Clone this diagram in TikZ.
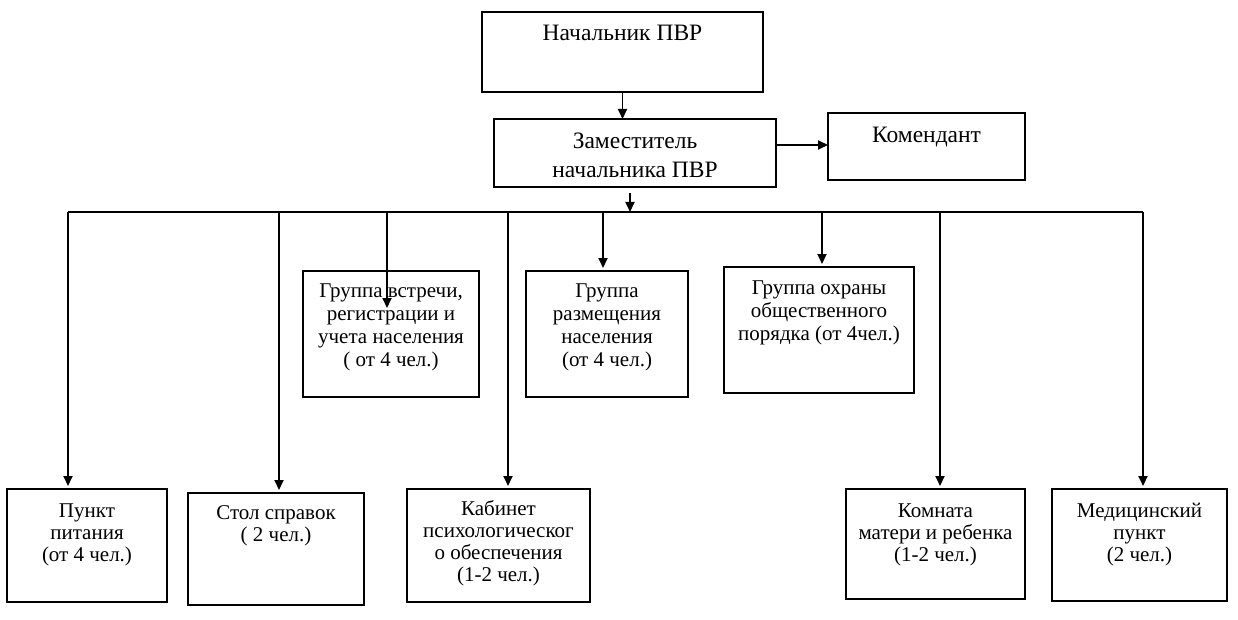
\documentclass[tikz,border=0pt]{standalone}
\usepackage{fontspec}
\setmainfont{Liberation Serif}
\usetikzlibrary{arrows.meta}
\tikzset{
  box/.style={draw, line width=1.9pt, inner sep=0pt, outer sep=0pt, rectangle},
  bigtxt/.style={anchor=north, inner sep=0pt, align=center, font=\fontsize{23.5}{29}\selectfont},
  grptxt/.style={anchor=north, inner sep=0pt, align=center, font=\fontsize{21}{23}\selectfont},
  smalltxt/.style={anchor=north, inner sep=0pt, align=center, font=\fontsize{21}{22}\selectfont},
  ln/.style={line width=1.9pt},
  arr/.style={line width=1.9pt, -{Triangle[length=10pt,width=9pt]}},
  arrs/.style={arr, shorten >=3pt}
}
\begin{document}
\begin{tikzpicture}[x=1pt,y=-1pt]
\useasboundingbox (0,0) rectangle (1238,620);
% boxes
\node[box, minimum width=281pt, minimum height=80pt] (nach) at (622.5,52) {};
\node[box, minimum width=282pt, minimum height=68pt] (zam) at (635,153) {};
\node[box, minimum width=197pt, minimum height=67pt] (kom) at (926.5,146.5) {};
\node[box, minimum width=176pt, minimum height=126pt] (vst) at (391,334) {};
\node[box, minimum width=162pt, minimum height=126pt] (raz) at (607,334) {};
\node[box, minimum width=190pt, minimum height=126pt] (ohr) at (819,330) {};
\node[box, minimum width=160pt, minimum height=113pt] (pit) at (87,545.5) {};
\node[box, minimum width=176pt, minimum height=112pt] (stol) at (276,549) {};
\node[box, minimum width=183pt, minimum height=113pt] (kab) at (498.5,545.5) {};
\node[box, minimum width=179pt, minimum height=110pt] (komn) at (935.5,544) {};
\node[box, minimum width=175pt, minimum height=112pt] (med) at (1139.5,545) {};
% texts
\node[bigtxt] (nacht) at ([yshift=-7.7pt]nach.north) {\strut Начальник ПВР};
\node[bigtxt] (zamt) at ([yshift=-8.7pt]zam.north) {\strut Заместитель\\начальника ПВР};
\node[bigtxt] (komt) at ([yshift=-8.7pt]kom.north) {\strut Комендант};
\node[grptxt] (vstt) at ([yshift=-9.9pt]vst.north) {\strut Группа встречи,\\регистрации и\\учета населения\\( от 4 чел.)};
\node[grptxt] (razt) at ([yshift=-9.9pt]raz.north) {\strut Группа\\размещения\\населения\\(от 4 чел.)};
\node[grptxt] (ohrt) at ([yshift=-10.9pt]ohr.north) {\strut Группа охраны\\общественного\\порядка (от 4чел.)};
\node[smalltxt] (pitt) at ([yshift=-13pt]pit.north) {\strut Пункт\\питания\\(от 4 чел.)};
\node[smalltxt] (stolt) at ([yshift=-10.6pt]stol.north) {\strut Стол справок\\( 2 чел.)};
\node[smalltxt] (kabt) at ([yshift=-10.6pt]kab.north) {\strut Кабинет\\психологическог\\о обеспечения\\(1-2 чел.)};
\node[smalltxt] (komnt) at ([yshift=-12.6pt]komn.north) {\strut Комната\\матери и ребенка\\(1-2 чел.)};
\node[smalltxt] (medt) at ([yshift=-12.6pt]med.north) {\strut Медицинский\\пункт\\(2 чел.)};
% coordinates
\coordinate (kr) at (800,145);
\coordinate (zt) at (630,193);
\coordinate (zb) at (630,212);
\coordinate (busL) at (68,212);
\coordinate (busR) at (1143,212);
\coordinate (b1) at (68,212);
\coordinate (b2) at (279,212);
\coordinate (b3) at (387,212);
\coordinate (b4) at (508,212);
\coordinate (b5) at (603,212);
\coordinate (b6) at (822,212);
\coordinate (b7) at (940,212);
\coordinate (b8) at (1143,212);
\coordinate (vend) at (387,308);
% connectors
\draw[arr] (nach.south) -- (nach.south |- zam.north);
\draw[arr] (zam.east |- kr) -- (kom.west |- kr);
\draw[arr] (zt) -- (zb);
\draw[ln] (busL) -- (busR);
\draw[arrs] (b1) -- (b1 |- pit.north);
\draw[arrs] (b2) -- (b2 |- stol.north);
\draw[arr] (b3) -- (vend);
\draw[arrs] (b4) -- (b4 |- kab.north);
\draw[arrs] (b5) -- (b5 |- raz.north);
\draw[arrs] (b6) -- (b6 |- ohr.north);
\draw[arrs] (b7) -- (b7 |- komn.north);
\draw[arrs] (b8) -- (b8 |- med.north);
\end{tikzpicture}
\end{document}
